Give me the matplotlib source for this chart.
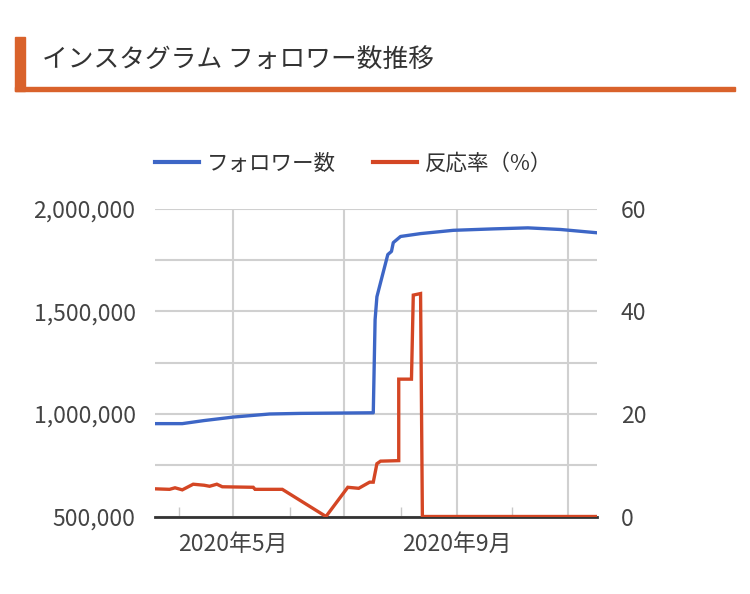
import numpy as np
import pandas as pd
import matplotlib
matplotlib.use("Agg")
import matplotlib.pyplot as plt
from matplotlib.lines import Line2D
from matplotlib.patches import Rectangle

plt.rcParams['font.family'] = ['Noto Sans CJK JP', 'DejaVu Sans']

title = "インスタグラム フォロワー数推移"
series_names = ["フォロワー数", "反応率（%）"]

# followers (left axis)
follower_dates = ["2020-03-19", "2020-04-03", "2020-04-15", "2020-05-01", "2020-05-21",
                  "2020-06-07", "2020-07-17", "2020-07-18", "2020-07-19", "2020-07-21",
                  "2020-07-25", "2020-07-27", "2020-07-28", "2020-08-01", "2020-08-12",
                  "2020-08-30", "2020-09-21", "2020-10-10", "2020-10-28", "2020-11-17"]
followers = [953000, 953000, 968000, 985000, 1000000,
             1003000, 1006000, 1460000, 1572000, 1641000,
             1778000, 1793000, 1836000, 1866000, 1880000,
             1896000, 1903000, 1908000, 1900000, 1884000]

# engagement rate % (right axis)
rate_dates = ["2020-03-19", "2020-03-27", "2020-03-30", "2020-04-03", "2020-04-09",
              "2020-04-15", "2020-04-18", "2020-04-22", "2020-04-25", "2020-05-12",
              "2020-05-13", "2020-05-28", "2020-06-21", "2020-07-03", "2020-07-09",
              "2020-07-15", "2020-07-17", "2020-07-19", "2020-07-21", "2020-07-31",
              "2020-07-31", "2020-08-07", "2020-08-08", "2020-08-12", "2020-08-13",
              "2020-11-17"]
rates = [5.4, 5.3, 5.6, 5.2, 6.3,
         6.1, 5.9, 6.3, 5.8, 5.7,
         5.3, 5.3, 0.0, 5.7, 5.5,
         6.7, 6.7, 10.3, 10.8, 10.9,
         26.8, 26.8, 43.2, 43.5, 0.0,
         0.0]

left_ticks = [500000, 1000000, 1500000, 2000000]
right_ticks = [0, 20, 40, 60]
major_months = ["2020-05-01", "2020-07-01", "2020-09-01", "2020-11-01"]
major_labels = ["2020年5月", "", "2020年9月", ""]
minor_months = ["2020-04-01", "2020-06-01", "2020-08-01", "2020-10-01"]

blue = "#3d66c6"
red = "#d44624"
accent = "#d9622b"
grid_c = "#d0d0d0"
text_c = "#444444"

fig = plt.figure(figsize=(7.5, 5.94), dpi=100)

# header decoration
fig.patches.append(Rectangle((15 / 750, 1 - 91 / 594), 10 / 750, 54 / 594,
                             transform=fig.transFigure, color=accent, zorder=0))
fig.patches.append(Rectangle((15 / 750, 1 - 91 / 594), 720 / 750, 4 / 594,
                             transform=fig.transFigure, color=accent, zorder=0))
fig.text(42 / 750, 1 - 60 / 594, title, fontsize=18.5, color="#333333",
         va="center", ha="left")

ax = fig.add_axes([155 / 750, 1 - 516.5 / 594, 442 / 750, 307.5 / 594])
ax2 = ax.twinx()

fd = pd.to_datetime(follower_dates)
rd = pd.to_datetime(rate_dates)

ax.plot(fd, followers, color=blue, lw=2.4, solid_joinstyle="round", zorder=3)
ax2.plot(rd, rates, color=red, lw=2.4, solid_joinstyle="miter", zorder=3)

ax.set_xlim(pd.Timestamp("2020-03-19"), pd.Timestamp("2020-11-17"))
ax.set_ylim(500000, 2000000)
ax2.set_ylim(0, 60)

ax.set_yticks(left_ticks)
ax.set_yticks(np.arange(750000, 2000000, 500000), minor=True)
ax.set_yticklabels([f"{v:,}" for v in left_ticks])
ax2.set_yticks(right_ticks)
ax2.set_yticklabels([str(v) for v in right_ticks])

ax.set_xticks(pd.to_datetime(major_months))
ax.set_xticklabels(major_labels)
ax.set_xticks(pd.to_datetime(minor_months), minor=True)

ax.grid(True, which="major", axis="both", color=grid_c, lw=1.5)
ax.grid(True, which="minor", axis="y", color=grid_c, lw=1.5)
ax.set_axisbelow(True)

for s in ["top", "right", "left"]:
    ax.spines[s].set_visible(False)
    ax2.spines[s].set_visible(False)
ax2.spines["bottom"].set_visible(False)
ax.spines["bottom"].set_color("#333333")
ax.spines["bottom"].set_linewidth(2)
ax.spines["bottom"].set_zorder(2)

ax.tick_params(axis="y", which="both", length=0, pad=14, labelsize=16.5, labelcolor=text_c)
ax2.tick_params(axis="y", length=0, pad=17, labelsize=16.5, labelcolor=text_c)
ax.tick_params(axis="x", which="major", length=0, pad=12, labelsize=16.5, labelcolor=text_c)
ax.tick_params(axis="x", which="minor", direction="in", length=7, width=1, color="#c8c8c8")

handles = [Line2D([], [], color=blue, lw=3), Line2D([], [], color=red, lw=3)]
fig.legend(handles, series_names, loc="center left",
           bbox_to_anchor=(155 / 750, 1 - 164 / 594), ncol=2, frameon=False,
           fontsize=15.5, handlelength=2.05, handletextpad=0.35, columnspacing=1.75,
           borderpad=0, borderaxespad=0, labelcolor="#333333")

fig.savefig("out.png", dpi=100)
